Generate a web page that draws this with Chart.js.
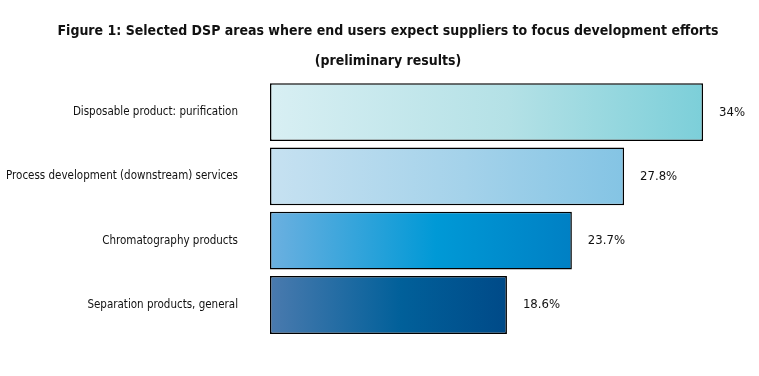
<!DOCTYPE html>
<html>
<head>
<meta charset="utf-8">
<script src="https://cdn.jsdelivr.net/npm/chart.js@4"></script>
<style>
  html, body { margin: 0; padding: 0; background: #fff; }
  #wrap { width: 759px; height: 376px; }
</style>
</head>
<body>
<div id="wrap"><canvas id="chBars"></canvas></div>
<script>
var titleLines = [
    'Figure 1: Selected DSP areas where end users expect suppliers to focus development efforts',
    '(preliminary results)'
];
var categories = [
    'Disposable product: purification',
    'Process development (downstream) services',
    'Chromatography products',
    'Separation products, general'
];
var values = [34, 27.8, 23.7, 18.6];
var valueLabels = ['34%', '27.8%', '23.7%', '18.6%'];

// gradient stops per bar, left to right
var barStops = [
    ['#d8eff3', '#b4e1e6', '#7ccfd9'],
    ['#c6e1f1', '#a4d2ea', '#84c4e4'],
    ['#6cb0e0', '#0099d6', '#0080c4'],
    ['#4a7aae', '#01609a', '#004a88']
];

var fontFam = '"DejaVu Sans Condensed", "Liberation Sans Narrow", sans-serif';

function barGradient(ctx) {
    var chart = ctx.chart;
    if (!chart.chartArea) return barStops[ctx.dataIndex][1];
    var xs = chart.scales.x;
    var x0 = xs.getPixelForValue(0);
    var x1 = xs.getPixelForValue(values[ctx.dataIndex]);
    var g = chart.ctx.createLinearGradient(x0, 0, x1, 0);
    var st = barStops[ctx.dataIndex];
    g.addColorStop(0, st[0]);
    g.addColorStop(0.55, st[1]);
    g.addColorStop(1, st[2]);
    return g;
}

// value labels to the right of each bar
var valueLabelPlugin = {
    id: 'valueLabels',
    afterDatasetsDraw: function(chart) {
        var c = chart.ctx;
        var meta = chart.getDatasetMeta(0);
        c.save();
        c.fillStyle = '#111';
        c.font = '13px ' + fontFam;
        c.textBaseline = 'middle';
        meta.data.forEach(function(bar, i) {
            c.fillText(valueLabels[i], bar.x + 16, bar.y);
        });
        c.restore();
    }
};

// title sits a little right of the canvas centre in the original
var titlePlugin = {
    id: 'figTitle',
    afterDraw: function(chart) {
        var c = chart.ctx;
        c.save();
        c.fillStyle = '#111';
        c.font = 'bold 14px ' + fontFam;
        c.textAlign = 'center';
        c.textBaseline = 'middle';
        titleLines.forEach(function(line, i) {
            c.fillText(line, 388, 31 + i * 30);
        });
        c.restore();
    }
};

window.onload = function onload() {
    var el = document.getElementById('chBars');
    new Chart(el, {
        type: 'bar',
        data: {
            labels: categories,
            datasets: [{
                data: values,
                backgroundColor: barGradient,
                borderColor: '#000',
                borderWidth: 1.5,
                borderSkipped: false,
                categoryPercentage: 1,
                barPercentage: 0.9
            }]
        },
        options: {
            indexAxis: 'y',
            responsive: true,
            maintainAspectRatio: false,
            animation: false,
            layout: { padding: { left: 0, right: 5, top: 80, bottom: 38 } },
            plugins: {
                legend: { display: false },
                tooltip: { enabled: false },
                title: { display: false }
            },
            scales: {
                x: {
                    display: false,
                    min: 0,
                    max: 38
                },
                y: {
                    grid: { display: false, drawTicks: false },
                    border: { display: false },
                    ticks: {
                        color: '#111',
                        padding: 32,
                        font: { family: fontFam, size: 11.5 }
                    },
                    afterFit: function(scale) { scale.width = 270; }
                }
            }
        },
        plugins: [valueLabelPlugin, titlePlugin]
    });
};
</script>
</body>
</html>
